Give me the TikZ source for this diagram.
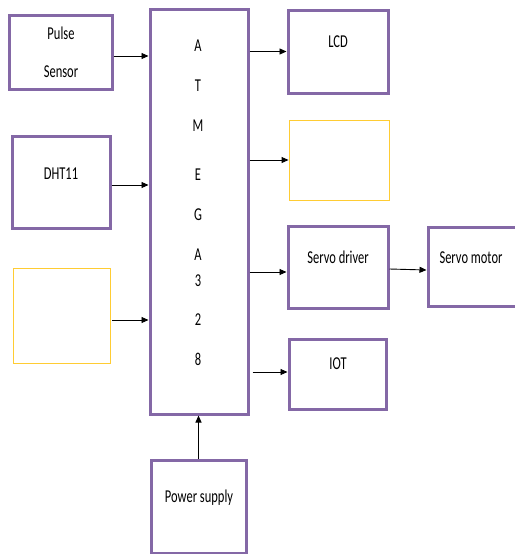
\documentclass[tikz,border=0pt]{standalone}
\usepackage{fontspec}
\setmainfont{Carlito}
\usepackage{graphicx}
\usetikzlibrary{arrows.meta}
\definecolor{boxpurple}{RGB}{132,104,166}
\definecolor{boxyellow}{RGB}{255,204,51}
\tikzset{
  pbox/.style={draw=boxpurple, line width=3pt, inner sep=0pt},
  ybox/.style={draw=boxyellow, line width=0.9pt, inner sep=0pt},
  txt/.style={inner sep=0pt, font=\fontsize{12.5}{14}\selectfont},
  arr/.style={draw=black, line width=0.9pt, -{Triangle[length=7pt,width=6pt]}},
}
\newcommand{\tl}[1]{\scalebox{1}[1.45]{#1}}
\begin{document}
\begin{tikzpicture}[x=1pt,y=-1pt]
\useasboundingbox (0,0) rectangle (514,554);
% boxes
\node[pbox, minimum width=103pt, minimum height=74pt] (pulse) at (60.5,52) {};
\node[pbox, minimum width=98pt, minimum height=92pt] (dht) at (61,182) {};
\node[ybox, minimum width=97pt, minimum height=95pt] (yl) at (61.5,315.5) {};
\node[pbox, minimum width=98pt, minimum height=405pt] (atm) at (199,211.5) {};
\node[pbox, minimum width=100pt, minimum height=83pt] (lcd) at (338,51.5) {};
\node[ybox, minimum width=100pt, minimum height=80pt] (yr) at (339,160) {};
\node[pbox, minimum width=100pt, minimum height=82pt] (sd) at (338,267) {};
\node[pbox, minimum width=92pt, minimum height=79pt] (sm) at (474,266.5) {};
\node[pbox, minimum width=97pt, minimum height=70pt] (iot) at (337.5,374) {};
\node[pbox, minimum width=95pt, minimum height=93pt] (ps) at (198.5,506.5) {};
% texts
\node[txt] (t1) at (61,33) {\tl{Pulse}};
\node[txt] (t2) at (61,72) {\tl{Sensor}};
\node[txt] (t3) at (61,174) {\tl{DHT11}};
\node[txt] (t4) at (338,42) {\tl{LCD}};
\node[txt] (t5) at (338,257) {\tl{Servo driver}};
\node[txt] (t6) at (471,258) {\tl{Servo motor}};
\node[txt] (t7) at (338,364) {\tl{IOT}};
\node[txt] (t8) at (199,498) {\tl{Power supply}};
\foreach \ch/\yy [count=\i] in {A/46,T/86,M/126,E/175,G/215,A/255,3/281,2/320,8/359}
  \node[txt] (a\i) at (198,\yy) {\tl{\ch}};
% connectors
\draw[arr] ([yshift=-4pt]pulse.east) coordinate (c1) -- (c1 -| atm.west);
\draw[arr] ([yshift=-3pt]dht.east) coordinate (c2) -- (c2 -| atm.west);
\draw[arr] ([xshift=2pt,yshift=-4.5pt]yl.east) coordinate (c3) -- (c3 -| atm.west);
\draw[arr] (atm.east |- lcd.west) -- (lcd.west);
\draw[arr] (atm.east |- yr.west) -- (yr.west);
\draw[arr] ([yshift=-5pt]sd.west -| atm.east) coordinate (c4) -- (c4 -| sd.west);
\draw[arr] ([yshift=-2pt]sd.east) -- ([yshift=-3pt]sd.east -| sm.west);
\draw[arr] ([xshift=3pt,yshift=2pt]atm.east |- iot.west) coordinate (c5) -- (c5 -| iot.west);
\draw[arr] (ps.north) -- (ps.north |- atm.south);
\end{tikzpicture}
\end{document}
